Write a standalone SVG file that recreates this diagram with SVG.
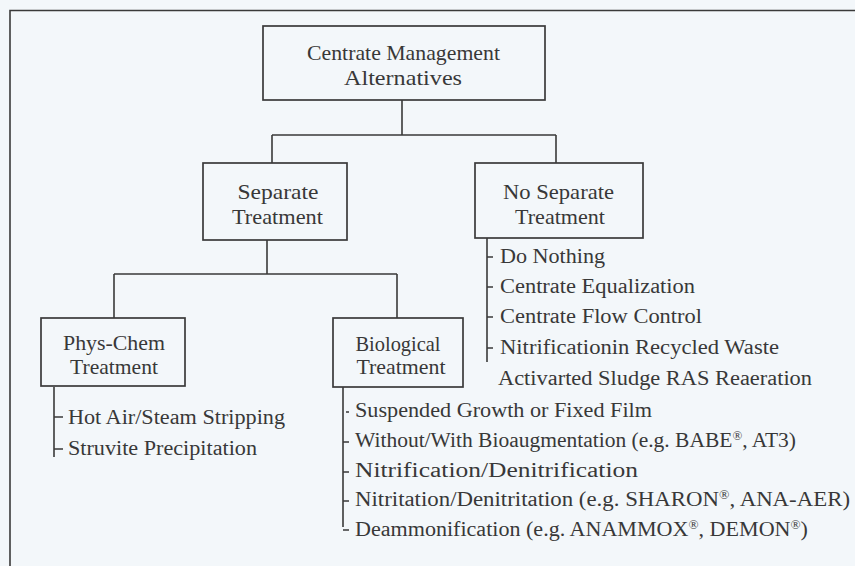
<svg xmlns="http://www.w3.org/2000/svg" width="855" height="566" viewBox="0 0 855 566">
<style>
.bg{fill:#f3f7fa}
.box{fill:none;stroke:#3a3a3a;stroke-width:1.7}
.ln{fill:none;stroke:#3a3a3a;stroke-width:1.6}
.t{font-family:"Liberation Serif","Times New Roman",serif;fill:#383838;}
.bt{font-size:21px;text-anchor:middle}
.li{font-size:20px}
.sup{font-size:12px}
</style>
<rect class="bg" x="0" y="0" width="855" height="566"/>
<g id="frame">
<path class="ln" d="M10,566 L10,10.5 L855,10.5"/>
</g>
<g id="connectors">
<path class="ln" d="M402,100 V135 M272,135 H556 M272,135 V163 M556,135 V163"/>
<path class="ln" d="M267,240 V274 M114,274 H397 M114,274 V318 M397,274 V318"/>
<path class="ln" d="M487,238 V362 M487,257 H493 M487,287 H493 M487,317 H493 M487,348 H493"/>
<path class="ln" d="M54,387 V457 M54,417 H63 M54,449 H63"/>
<path class="ln" d="M343,387 V527 M346,412 H349 M343,442 H349 M343,472 H349 M343,501 H349 M343,530 H349"/>
</g>
<g id="root">
<rect class="box" x="263" y="26" width="282" height="74"/>
<text class="t bt" x="403.5" y="60" textLength="193" lengthAdjust="spacingAndGlyphs">Centrate Management</text>
<text class="t bt" x="403" y="85" textLength="118" lengthAdjust="spacingAndGlyphs">Alternatives</text>
</g>
<g id="separate">
<rect class="box" x="203" y="163" width="144" height="77"/>
<text class="t bt" x="278" y="199" textLength="81" lengthAdjust="spacingAndGlyphs">Separate</text>
<text class="t bt" x="277.5" y="224" textLength="91" lengthAdjust="spacingAndGlyphs">Treatment</text>
</g>
<g id="noseparate">
<rect class="box" x="475" y="163" width="168" height="75"/>
<text class="t bt" x="558.5" y="199" textLength="111" lengthAdjust="spacingAndGlyphs">No Separate</text>
<text class="t bt" x="560" y="224" textLength="90" lengthAdjust="spacingAndGlyphs">Treatment</text>
</g>
<g id="noseparate-items">
<text class="t li" x="500" y="263" textLength="105" lengthAdjust="spacingAndGlyphs">Do Nothing</text>
<text class="t li" x="500" y="293" textLength="195" lengthAdjust="spacingAndGlyphs">Centrate Equalization</text>
<text class="t li" x="500" y="323" textLength="202" lengthAdjust="spacingAndGlyphs">Centrate Flow Control</text>
<text class="t li" x="500" y="354" textLength="279" lengthAdjust="spacingAndGlyphs">Nitrificationin Recycled Waste</text>
<text class="t li" x="498" y="385" textLength="314" lengthAdjust="spacingAndGlyphs">Activarted Sludge RAS Reaeration</text>
</g>
<g id="physchem">
<rect class="box" x="41" y="318" width="144" height="68"/>
<text class="t bt" x="114" y="350" textLength="102" lengthAdjust="spacingAndGlyphs">Phys-Chem</text>
<text class="t bt" x="114" y="374" textLength="88" lengthAdjust="spacingAndGlyphs">Treatment</text>
</g>
<g id="physchem-items">
<text class="t li" x="68" y="424" textLength="217" lengthAdjust="spacingAndGlyphs">Hot Air/Steam Stripping</text>
<text class="t li" x="68" y="455" textLength="189" lengthAdjust="spacingAndGlyphs">Struvite Precipitation</text>
</g>
<g id="biological">
<rect class="box" x="333" y="318" width="130" height="69"/>
<text class="t bt" x="398" y="351" textLength="85" lengthAdjust="spacingAndGlyphs">Biological</text>
<text class="t bt" x="401" y="374" textLength="89" lengthAdjust="spacingAndGlyphs">Treatment</text>
</g>
<g id="biological-items">
<text class="t li" x="355" y="417" textLength="297" lengthAdjust="spacingAndGlyphs">Suspended Growth or Fixed Film</text>
<text class="t li" x="355" y="447" textLength="441" lengthAdjust="spacingAndGlyphs">Without/With Bioaugmentation (e.g. BABE<tspan class="sup" dy="-7">®</tspan><tspan dy="7">, AT3)</tspan></text>
<text class="t li" x="355" y="477" textLength="283" lengthAdjust="spacingAndGlyphs">Nitrification/Denitrification</text>
<text class="t li" x="355" y="506" textLength="495" lengthAdjust="spacingAndGlyphs">Nitritation/Denitritation (e.g. SHARON<tspan class="sup" dy="-7">®</tspan><tspan dy="7">, ANA-AER)</tspan></text>
<text class="t li" x="355" y="536" textLength="453" lengthAdjust="spacingAndGlyphs">Deammonification (e.g. ANAMMOX<tspan class="sup" dy="-7">®</tspan><tspan dy="7">, DEMON</tspan><tspan class="sup" dy="-7">®</tspan><tspan dy="7">)</tspan></text>
</g>
</svg>
